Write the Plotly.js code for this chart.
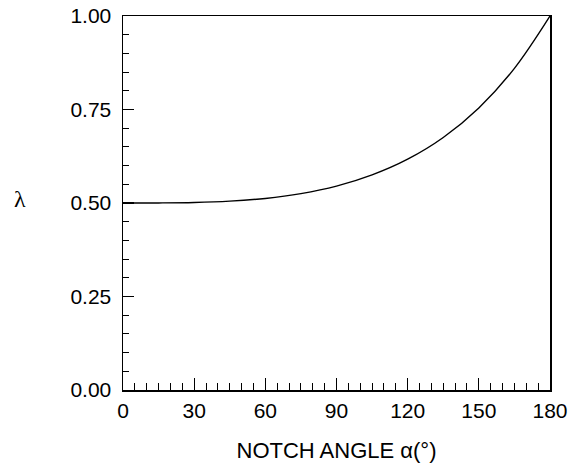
<!DOCTYPE html>
<html>
<head>
<meta charset="utf-8">
<script src="https://cdn.plot.ly/plotly-3.0.1.min.js"></script>
<style>html,body{margin:0;padding:0;background:#fff;}#chart{width:570px;height:469px;}</style>
</head>
<body>
<div id="chart"></div>
<script>
// Notch angle alpha (degrees)
var alpha = [0, 15, 30, 45, 60, 75, 90, 105, 120, 135, 150, 165, 180];
// Eigenvalue lambda
var lambda = [0.500, 0.5002, 0.5014, 0.5050, 0.5122, 0.5250, 0.5450, 0.5750, 0.6170, 0.6750, 0.7540, 0.8600, 1.000];
var xTickVals = [0, 30, 60, 90, 120, 150, 180];
var yTickVals = [0, 0.25, 0.5, 0.75, 1.0];
var yTickText = ["0.00", "0.25", "0.50", "0.75", "1.00"];

var font = "Liberation Sans, Arial, sans-serif";

var trace = {
  x: alpha, y: lambda, type: "scatter", mode: "lines",
  line: {color: "#000", width: 1.4, shape: "spline", smoothing: 1},
  hoverinfo: "none", showlegend: false
};

var layout = {
  width: 570, height: 469,
  margin: {l: 123, r: 20, t: 16, b: 79},
  paper_bgcolor: "#fff", plot_bgcolor: "#fff",
  font: {family: font, color: "#000", size: 21},
  xaxis: {
    range: [0, 180], tickvals: xTickVals, ticktext: xTickVals.map(String),
    ticks: "inside", ticklen: 12, tickwidth: 1.2, tickcolor: "#000",
    minor: {dtick: 5, tick0: 0, ticks: "inside", ticklen: 7, tickwidth: 1, tickcolor: "#000", showgrid: false},
    showline: true, linecolor: "#000", linewidth: 1.5, mirror: true,
    showgrid: false, zeroline: false,
    tickfont: {family: font, size: 21, color: "#000"},
    ticklabelstandoff: 1,
    title: {text: "NOTCH ANGLE \u03b1(\u00b0)", font: {family: font, size: 22, color: "#000"}, standoff: 22}
  },
  yaxis: {
    range: [0, 1], tickvals: yTickVals, ticktext: yTickText,
    ticks: "inside", ticklen: 11, tickwidth: 1.2, tickcolor: "#000",
    minor: {dtick: 0.05, tick0: 0, ticks: "inside", ticklen: 6, tickwidth: 1, tickcolor: "#000", showgrid: false},
    showline: true, linecolor: "#000", linewidth: 1.5, mirror: true,
    showgrid: false, zeroline: false,
    tickfont: {family: font, size: 21, color: "#000"},
    ticklabelstandoff: 6
  },
  annotations: [{
    text: "\u03bb", xref: "paper", yref: "paper", x: -0.241, y: 0.51,
    xanchor: "center", yanchor: "middle", showarrow: false,
    font: {family: "Liberation Serif, Times New Roman, serif", size: 24, color: "#000"}
  }]
};

Plotly.newPlot("chart", [trace], layout, {staticPlot: true, displayModeBar: false});
</script>
</body>
</html>
